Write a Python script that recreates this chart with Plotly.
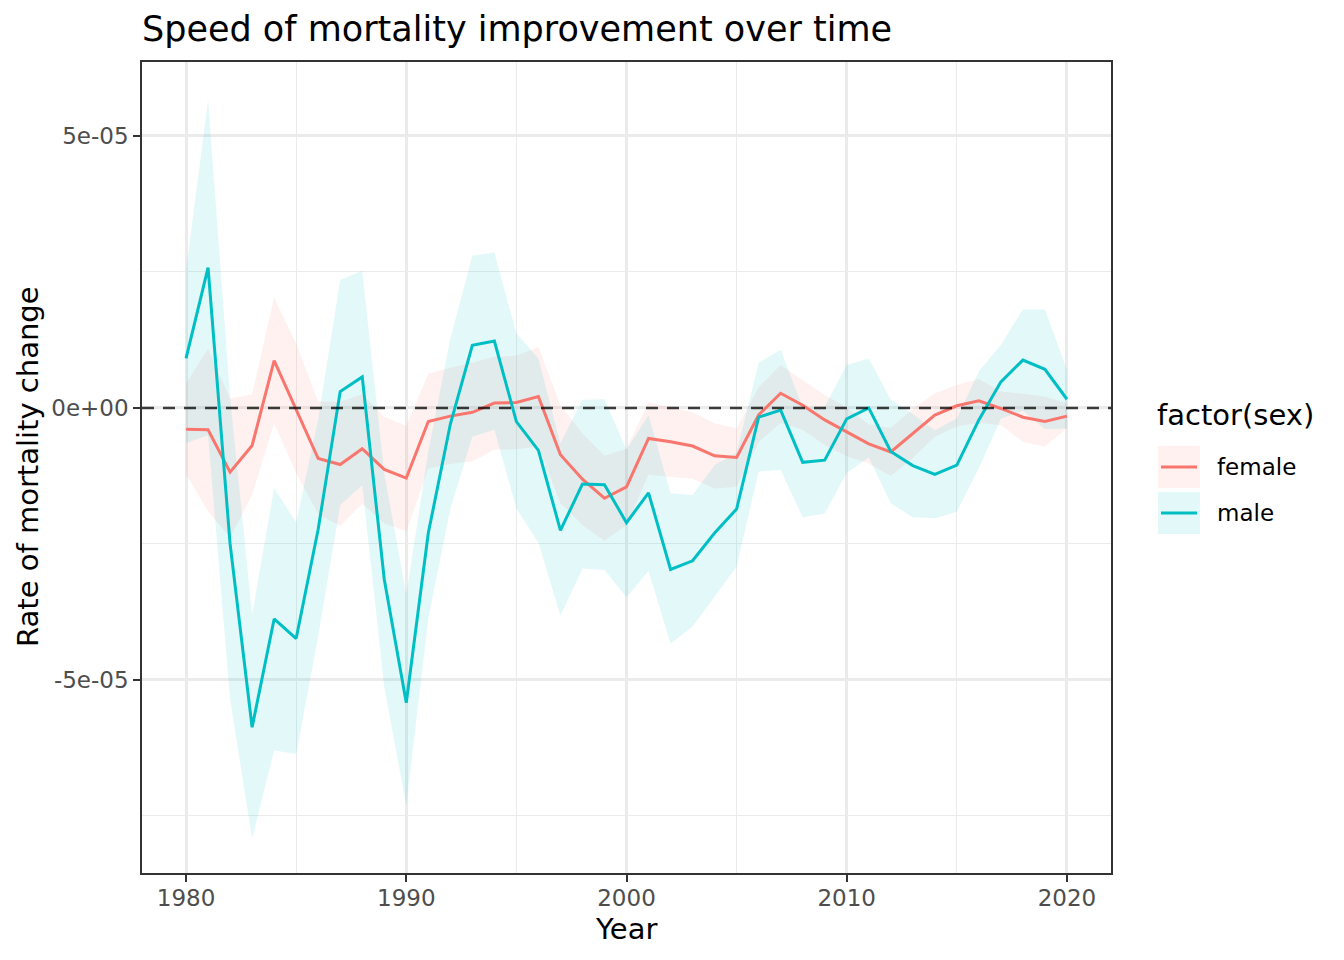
"""
Speed of mortality improvement over time, drawn with plotly.
"""

import plotly.graph_objects as go

# values are read in units of 1e-05
SCALE = 1e-05

years = list(range(1980, 2021))

female = [-0.39, -0.40, -1.18, -0.69, 0.87, -0.02, -0.93, -1.04, -0.75, -1.13,
          -1.29, -0.25, -0.15, -0.08, 0.09, 0.10, 0.21, -0.86, -1.31, -1.66,
          -1.45, -0.56, -0.62, -0.70, -0.88, -0.91, -0.13, 0.27, 0.05, -0.22,
          -0.44, -0.66, -0.81, -0.47, -0.13, 0.04, 0.13, -0.01, -0.17, -0.25,
          -0.15]
female_hi = [0.45, 1.09, 0.18, 0.25, 2.03, 1.18, 0.12, 0.11, 0.25, -0.16,
             -0.33, 0.63, 0.74, 0.83, 0.94, 0.96, 1.12, 0.05, -0.47, -0.88,
             -0.75, 0.10, 0.02, -0.08, -0.28, -0.38, 0.38, 0.79, 0.51, 0.24,
             0.01, -0.30, -0.37, -0.02, 0.27, 0.42, 0.53, 0.30, 0.26, 0.21,
             0.08]
female_lo = [-1.22, -1.90, -2.38, -1.60, -0.28, -1.20, -1.95, -2.17, -1.76, -2.12,
             -2.27, -1.12, -1.03, -0.98, -0.77, -0.76, -0.71, -1.75, -2.15, -2.44,
             -2.15, -1.23, -1.27, -1.30, -1.48, -1.45, -0.63, -0.27, -0.40, -0.68,
             -0.89, -1.02, -1.25, -0.92, -0.53, -0.34, -0.27, -0.32, -0.62, -0.71,
             -0.37]

male = [0.91, 2.58, -2.50, -5.87, -3.88, -4.24, -2.23, 0.30, 0.57, -3.15,
        -5.42, -2.30, -0.30, 1.15, 1.23, -0.25, -0.78, -2.25, -1.40, -1.41,
        -2.11, -1.56, -2.97, -2.81, -2.30, -1.86, -0.17, -0.04, -1.00, -0.96,
        -0.20, 0.00, -0.80, -1.06, -1.22, -1.05, -0.22, 0.48, 0.88, 0.71,
        0.16]
male_hi = [2.53, 5.66, 0.20, -3.80, -1.47, -2.11, -0.20, 2.35, 2.52, -1.20,
           -3.43, -0.80, 1.27, 2.80, 2.86, 1.37, 0.91, -0.65, 0.15, 0.16,
           -0.77, -0.13, -1.57, -1.60, -1.05, -0.82, 0.83, 1.07, 0.01, 0.02,
           0.79, 0.91, 0.15, -0.11, -0.41, -0.19, 0.67, 1.16, 1.81, 1.81,
           0.70]
male_lo = [-0.65, -0.50, -5.35, -7.92, -6.30, -6.36, -4.20, -1.79, -1.42, -5.13,
           -7.31, -3.87, -1.86, -0.53, -0.40, -1.85, -2.48, -3.82, -2.95, -2.98,
           -3.48, -3.00, -4.33, -4.02, -3.47, -2.92, -1.17, -1.14, -2.01, -1.94,
           -1.19, -0.91, -1.75, -2.01, -2.03, -1.91, -1.11, -0.20, -0.05, -0.39,
           -0.38]

x_ticks = [1980, 1990, 2000, 2010, 2020]
x_minor = [1985, 1995, 2005, 2015]
y_ticks = [-5e-05, 0, 5e-05]
y_tick_labels = ["-5e-05", "0e+00", "5e-05"]
y_minor = [-7.5e-05, -2.5e-05, 2.5e-05]

sexes = ["female", "male"]
colors = {"female": "#F8766D", "male": "#00BFC4"}
fills = {"female": "rgba(248,118,109,0.1)", "male": "rgba(0,191,196,0.11)"}

series = {
    "female": (female, female_lo, female_hi),
    "male": (male, male_lo, male_hi),
}

FONT = "DejaVu Sans"
TITLE_SIZE = 35
AXIS_TITLE_SIZE = 29
TEXT_SIZE = 23
W, H = 1344, 960
# panel edges in pixels
PL, PR, PT, PB = 142, 1111, 62, 873


def px_x(px):
    return (px - PL) / (PR - PL)


def px_y(py):
    return (PB - py) / (PB - PT)


def scaled(values):
    return [v * SCALE for v in values]


fig = go.Figure()

# ribbons first, then lines on top
for sex in sexes:
    mid, lo, hi = series[sex]
    fig.add_trace(
        go.Scatter(
            x=years + years[::-1],
            y=scaled(hi) + scaled(lo)[::-1],
            fill="toself",
            fillcolor=fills[sex],
            line={"width": 0},
            mode="lines",
            hoverinfo="skip",
            showlegend=False,
        )
    )

for sex in sexes:
    mid, lo, hi = series[sex]
    fig.add_trace(
        go.Scatter(
            x=years,
            y=scaled(mid),
            mode="lines",
            line={"color": colors[sex], "width": 3},
            name=sex,
            showlegend=False,
        )
    )

fig.add_hline(y=0, line={"color": "rgba(0,0,0,0.75)", "width": 2.5, "dash": "12px,9px"}, layer="above")

axis_common = dict(
    showline=True,
    linecolor="#333333",
    linewidth=1.6,
    mirror=True,
    zeroline=False,
    showgrid=True,
    gridcolor="#EBEBEB",
    gridwidth=2.5,
    ticks="outside",
    ticklen=7,
    tickwidth=1.6,
    tickcolor="#333333",
    tickfont={"family": FONT, "size": TEXT_SIZE, "color": "#4D4D4D"},
)

fig.update_layout(
    width=W,
    height=H,
    margin={"l": PL, "r": W - PR, "t": PT, "b": H - PB},
    plot_bgcolor="white",
    paper_bgcolor="white",
    font={"family": FONT, "color": "black"},
    title={
        "text": "Speed of mortality improvement over time",
        "font": {"family": FONT, "size": TITLE_SIZE, "color": "black"},
        "xref": "paper",
        "x": 0,
        "xanchor": "left",
        "yref": "container",
        "y": 1 - 29 / H,
        "yanchor": "middle",
    },
    xaxis=dict(
        axis_common,
        range=[1978, 2022],
        tickvals=x_ticks,
        ticklabelstandoff=-3,
        minor={"tickvals": x_minor, "showgrid": True, "gridcolor": "#EBEBEB", "gridwidth": 1.3, "ticks": ""},
    ),
    yaxis=dict(
        axis_common,
        range=[-8.55e-05, 6.36e-05],
        tickvals=y_ticks,
        ticktext=y_tick_labels,
        minor={"tickvals": y_minor, "showgrid": True, "gridcolor": "#EBEBEB", "gridwidth": 1.3, "ticks": ""},
    ),
    showlegend=False,
)

# axis titles
fig.add_annotation(
    text="Year", xref="paper", yref="paper", x=px_x(626), y=px_y(929),
    xanchor="center", yanchor="middle", showarrow=False,
    font={"family": FONT, "size": AXIS_TITLE_SIZE, "color": "black"},
)
fig.add_annotation(
    text="Rate of mortality change", xref="paper", yref="paper", x=px_x(28), y=px_y(467),
    xanchor="center", yanchor="middle", textangle=-90, showarrow=False,
    font={"family": FONT, "size": AXIS_TITLE_SIZE, "color": "black"},
)

# legend drawn by hand: ggplot style keys with ribbon fill behind the line
fig.add_annotation(
    text="factor(sex)", xref="paper", yref="paper", x=px_x(1155), y=px_y(415),
    xanchor="left", yanchor="middle", showarrow=False,
    font={"family": FONT, "size": AXIS_TITLE_SIZE, "color": "black"},
)
key_top = 446
key_size = 42
key_gap = 4
for i, sex in enumerate(sexes):
    top = key_top + i * (key_size + key_gap)
    fig.add_shape(
        type="rect", xref="paper", yref="paper",
        x0=px_x(1158), x1=px_x(1158 + key_size), y0=px_y(top), y1=px_y(top + key_size),
        fillcolor=fills[sex], line={"width": 0},
    )
    fig.add_shape(
        type="line", xref="paper", yref="paper",
        x0=px_x(1161), x1=px_x(1197), y0=px_y(top + key_size / 2), y1=px_y(top + key_size / 2),
        line={"color": colors[sex], "width": 3},
    )
    fig.add_annotation(
        text=sex, xref="paper", yref="paper", x=px_x(1215), y=px_y(top + key_size / 2),
        xanchor="left", yanchor="middle", showarrow=False,
        font={"family": FONT, "size": TEXT_SIZE, "color": "black"},
    )

# the page body has a default 8px margin; drop it so the figure sits at 0,0
fig.write_html(
    "out.html",
    config={"displayModeBar": False},
    post_script="document.body.style.margin = '0px';",
)
